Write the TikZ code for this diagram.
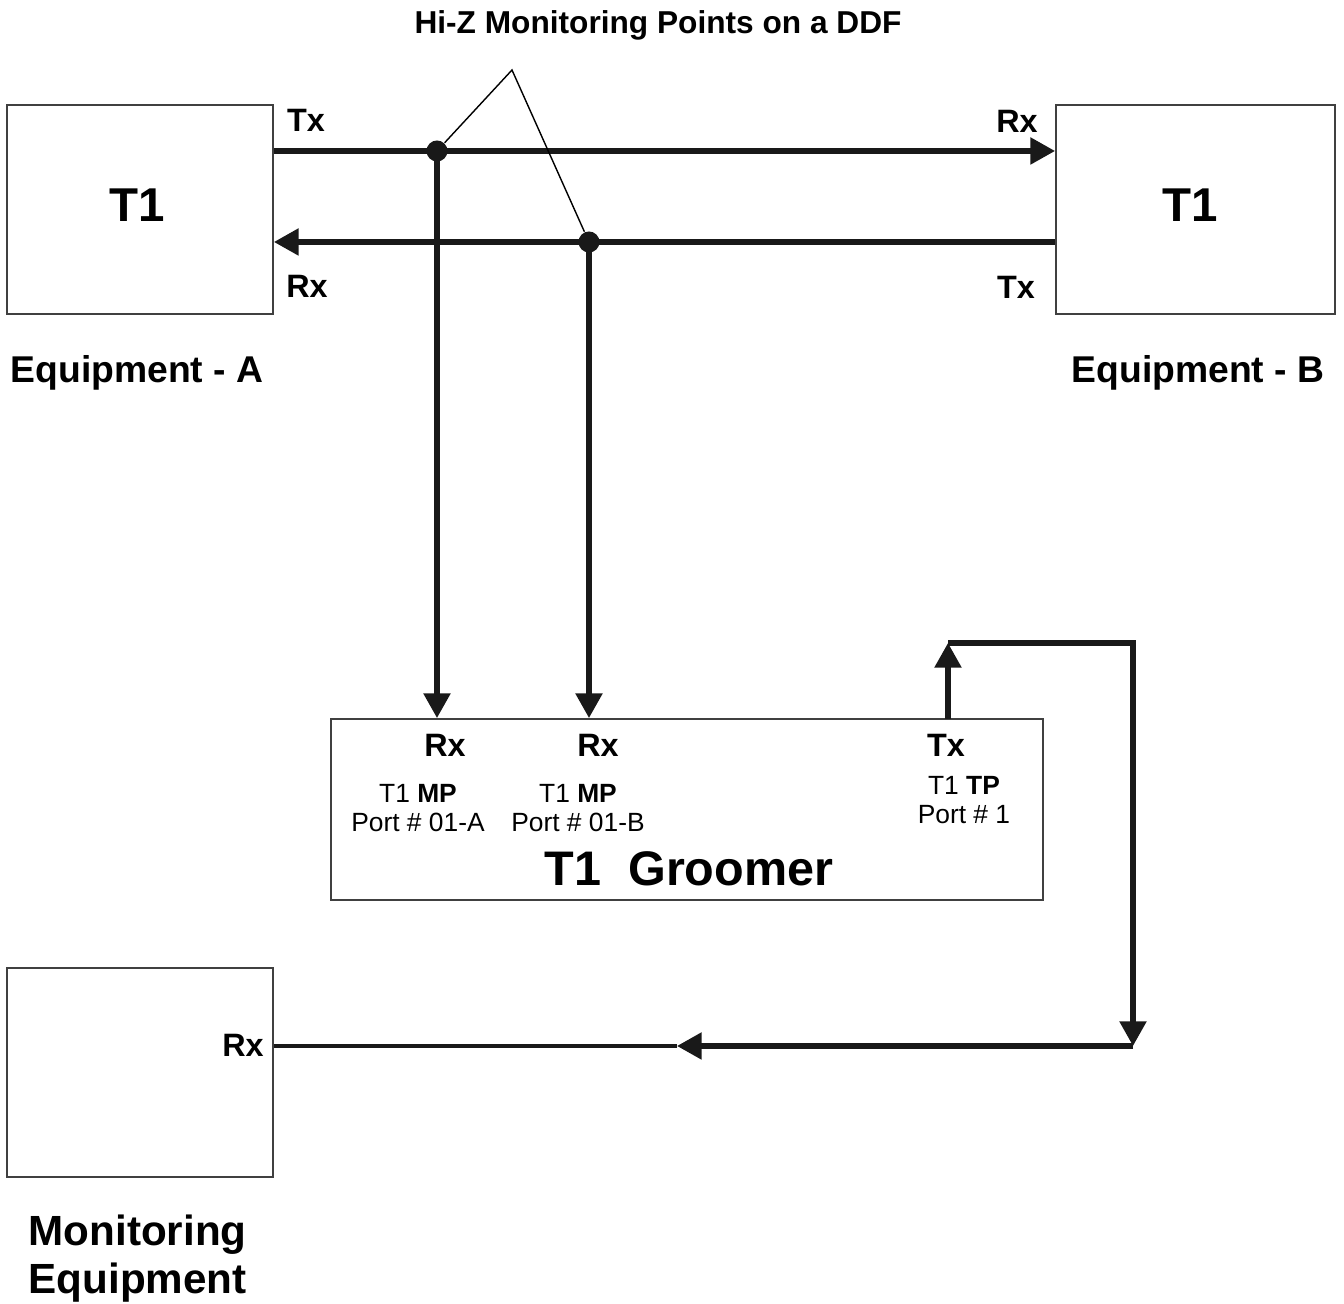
\documentclass[tikz,border=0pt]{standalone}
\usepackage{fontspec}
\setmainfont{Liberation Sans}
\usetikzlibrary{positioning, calc, arrows.meta}

\tikzset{
  box/.style={draw=black!75, line width=0.5pt, inner sep=0pt},
  sig/.style={line width=1.45pt, black!90},
  tip/.style={-{Triangle[length=7pt,width=7.4pt]}},
  dot/.style={circle, fill=black!90, inner sep=0pt, minimum size=0.21cm},
  port/.style={font=\fontsize{9.2}{10}\selectfont\bfseries, inner sep=0pt},
  info/.style={font=\fontsize{7.5}{8.4}\selectfont, align=center, inner sep=0pt},
  big/.style={font=\fontsize{13.5}{15}\selectfont\bfseries, inner sep=0pt},
  eqname/.style={font=\fontsize{10.6}{12}\selectfont\bfseries, inner sep=0pt}
}

\begin{document}
\begin{tikzpicture}[x=0.01cm, y=-0.01cm]
        \useasboundingbox (0,0) rectangle (1344,1304);
        % equipment boxes
        \node[box, minimum width=2.66cm, minimum height=2.09cm] (eqA) at (140,209.5) {};
        \node[box, minimum width=2.79cm, minimum height=2.09cm] (eqB) at (1195.5,209.5) {};
        \node[box, minimum width=7.12cm, minimum height=1.81cm] (grm) at (687,809.5) {};
        \node[box, minimum width=2.66cm, minimum height=2.09cm] (mon) at (140,1072.5) {};
        \node[big] (tA) at (137,205) {T1};
        \node[big] (tB) at (1190,205) {T1};
        \node[eqname] (capA) at (137,373) {Equipment - A};
        \node[eqname] (capB) at (1198,373) {Equipment - B};
        \node[font=\fontsize{12}{13.7}\selectfont\bfseries, align=left, inner sep=0pt, anchor=west] (capM) at (28,1259) {Monitoring\\Equipment};
        \node[font=\fontsize{9}{10}\selectfont\bfseries, inner sep=0pt] (title) at (658,25) {Hi-Z Monitoring Points on a DDF};
        % port labels
        \node[port] at (306,120) {Tx};
        \node[port] at (307,286) {Rx};
        \node[port] at (1017,121) {Rx};
        \node[port] at (1016,287) {Tx};
        \node[port] at (445,745) {Rx};
        \node[port] at (598,745) {Rx};
        \node[port] at (946,745) {Tx};
        \node[port] at (243,1045) {Rx};
        \node[info] (mpA) at (418,808) {T1 \textbf{MP}\\Port \# 01-A};
        \node[info] (mpB) at (578,808) {T1 \textbf{MP}\\Port \# 01-B};
        \node[info] (tp) at (964,800) {T1 \textbf{TP}\\Port \# 1};
        \node[font=\fontsize{13.8}{15}\selectfont\bfseries, inner sep=0pt] (gname) at (689,869) {T1\ \ Groomer};
        % line ends
        \coordinate (aTx) at (eqA.east |- 0,151);
        \coordinate (bRx) at (eqB.west |- 0,151);
        \coordinate (bTx) at (eqB.west |- 0,242);
        \coordinate (aRx) at (eqA.east |- 0,242);
        \node[dot] (m1) at (437,151) {};
        \node[dot] (m2) at (589,242) {};
        \coordinate (gTx) at (948,719);
        \coordinate (up) at (948,643);
        \coordinate (cr) at (1133,643);
        \coordinate (dn) at (1133,1046);
        \coordinate (mid) at (677,1046);
        \coordinate (mRx) at (mon.east |- 0,1046);
        \coordinate (apex) at (512,70);
        % signals
        \draw[sig, tip] (aTx) -- (bRx);
        \draw[sig, tip] (bTx) -- (aRx);
        \draw[sig, tip] (m1.center) -- (m1.center |- grm.north);
        \draw[sig, tip] (m2.center) -- (m2.center |- grm.north);
        \draw[sig, tip] (gTx) -- (up);
        \draw[sig, tip] (up) -- (cr) -- (dn);
        \draw[sig, tip] (dn) -- (mid);
        \draw[sig, line width=1.35pt] (mid) -- (mRx);
        % pointer
        \draw[line width=0.4pt] (m1) -- (apex) -- (m2);
\end{tikzpicture}
\end{document}
